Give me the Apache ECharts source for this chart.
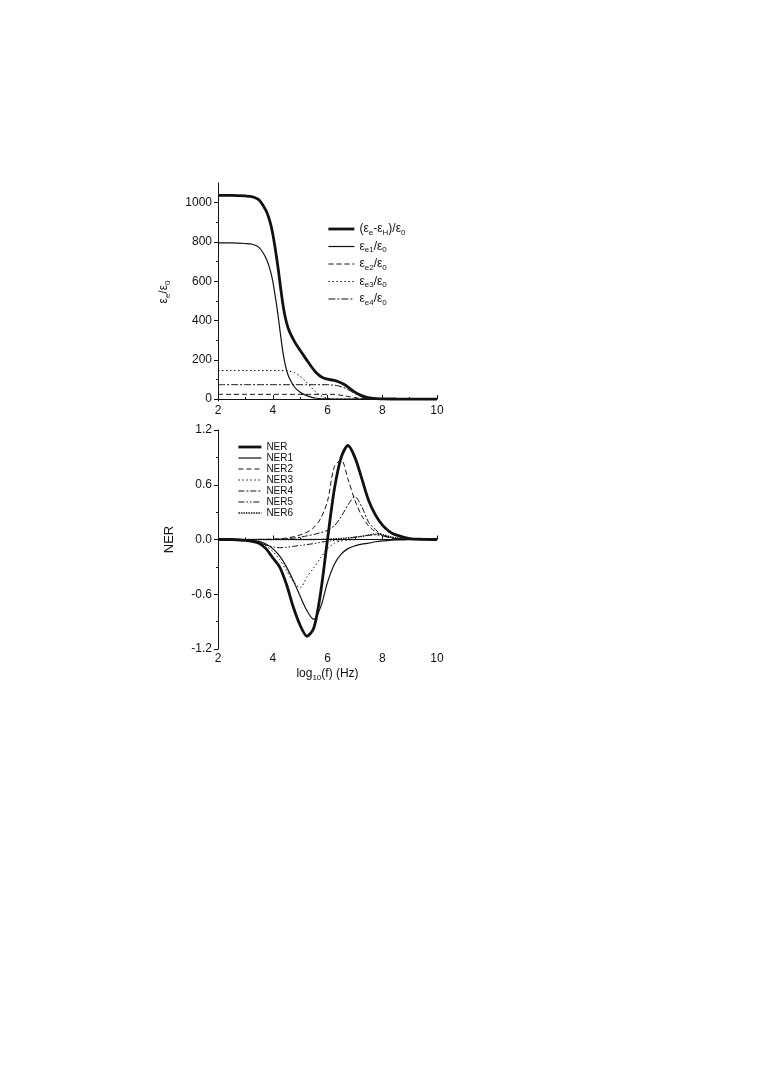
<!DOCTYPE html>
<html>
<head>
<meta charset="utf-8">
<script src="https://cdn.jsdelivr.net/npm/echarts@6/dist/echarts.min.js"></script>
<style>
html,body{margin:0;padding:0;background:#fff;}
#chart{width:766px;height:1084px;}
</style>
</head>
<body>
<div id="chart"></div>
<script>
// ---------- Top panel data: eps_e / eps_0 vs log10(f) ----------
const X_TOP = [2, 2.5, 3, 3.25, 3.5, 3.75, 3.9, 4, 4.1, 4.2, 4.3, 4.4, 4.5, 4.6, 4.8, 5, 5.2, 5.4, 5.6, 5.8, 6, 6.2, 6.4, 6.6, 6.8, 7, 7.2, 7.4, 7.6, 7.8, 8, 8.5, 9, 10];
const E_TOTAL = [1037, 1037, 1034, 1030, 1014, 960, 902, 842, 757, 662, 552, 457, 391, 347, 291, 248, 207, 167, 133, 111, 101, 96, 88, 75, 56, 35, 20, 10, 5, 2.4, 0.9, 0.1, 0, 0];
const E1 = [795, 795, 792, 788, 772, 718, 660, 600, 515, 420, 310, 215, 150, 108, 60, 35, 20, 10, 4, 1.5, 0.5, 0, 0, 0, 0, 0, 0, 0, 0, 0, 0, 0, 0, 0];
const E2 = [24, 24, 24, 24, 24, 24, 24, 24, 24, 24, 24, 24, 24, 24, 24, 24, 24, 24, 24, 24, 24, 24, 21, 17, 12, 7, 4, 2, 1, 0.4, 0.1, 0, 0, 0];
const E3 = [145, 145, 145, 145, 145, 145, 145, 145, 145, 145, 145, 145, 144, 142, 134, 116, 90, 60, 32, 13, 4, 1, 0.3, 0, 0, 0, 0, 0, 0, 0, 0, 0, 0, 0];
const E4 = [73, 73, 73, 73, 73, 73, 73, 73, 73, 73, 73, 73, 73, 73, 73, 73, 73, 73, 73, 73, 73, 71, 67, 58, 44, 28, 16, 8, 4, 2, 0.8, 0.1, 0, 0];

// ---------- Bottom panel data: NER vs log10(f) ----------
const X_BOT = [2, 2.5, 3, 3.25, 3.5, 3.75, 4, 4.25, 4.5, 4.75, 5, 5.25, 5.5, 5.75, 6, 6.25, 6.5, 6.75, 7, 7.25, 7.5, 7.75, 8, 8.25, 8.5, 9, 9.5, 10];
const NER  = [0, 0, -0.01, -0.02, -0.04, -0.1, -0.2, -0.3, -0.49, -0.74, -0.94, -1.06, -0.97, -0.58, 0.0, 0.55, 0.9, 1.03, 0.9, 0.67, 0.43, 0.27, 0.16, 0.09, 0.05, 0.01, 0.002, 0];
const NER1 = [0, 0, -0.004, -0.01, -0.02, -0.05, -0.1, -0.18, -0.3, -0.45, -0.62, -0.78, -0.875, -0.74, -0.47, -0.27, -0.16, -0.1, -0.07, -0.05, -0.04, -0.025, -0.015, -0.01, -0.005, -0.001, 0, 0];
const NER2 = [0, 0, 0, 0, 0.001, 0.002, 0.004, 0.008, 0.015, 0.03, 0.05, 0.08, 0.13, 0.23, 0.42, 0.8, 0.87, 0.66, 0.43, 0.26, 0.15, 0.085, 0.045, 0.022, 0.01, 0.002, 0, 0];
const NER3 = [0, 0, -0.005, -0.015, -0.03, -0.07, -0.13, -0.22, -0.34, -0.46, -0.53, -0.41, -0.31, -0.2, -0.1, -0.04, -0.015, -0.007, -0.003, 0, 0, 0, 0, 0, 0, 0, 0, 0];
const NER4 = [0, 0, 0, 0, 0, 0, 0, 0.003, 0.008, 0.015, 0.025, 0.04, 0.055, 0.075, 0.1, 0.15, 0.25, 0.38, 0.47, 0.36, 0.19, 0.11, 0.05, 0.025, 0.012, 0.002, 0, 0];
const NER5 = [0, -0.002, -0.01, -0.02, -0.035, -0.06, -0.08, -0.09, -0.085, -0.075, -0.065, -0.055, -0.045, -0.03, -0.02, -0.01, 0, 0.01, 0.025, 0.035, 0.045, 0.05, 0.04, 0.025, 0.012, 0.002, 0, 0];
const NER6 = [0, 0, 0, 0, 0, 0, 0, 0, 0, 0, 0, 0, 0, 0.002, 0.005, 0.008, 0.012, 0.018, 0.025, 0.035, 0.05, 0.06, 0.055, 0.035, 0.018, 0.004, 0, 0];

// ---------- Axis ticks ----------
const TOP_Y_TICKS = [0, 200, 400, 600, 800, 1000];
const TOP_Y_MINOR = [100, 300, 500, 700, 900];

// ---------- Legend labels ----------
const TOP_NAMES = ['total', 'e1', 'e2', 'e3', 'e4'];
const TOP_LABELS = {
  total: '{n|(ε}{s|e}{n|-ε}{s|H}{n|)/ε}{s|0}',
  e1: '{n|ε}{s|e1}{n|/ε}{s|0}',
  e2: '{n|ε}{s|e2}{n|/ε}{s|0}',
  e3: '{n|ε}{s|e3}{n|/ε}{s|0}',
  e4: '{n|ε}{s|e4}{n|/ε}{s|0}'
};
const BOT_NAMES = ['NER', 'NER1', 'NER2', 'NER3', 'NER4', 'NER5', 'NER6'];

const FONT = '"Liberation Sans", Arial, sans-serif';
const INK = '#111';

const rich = {
  n: { fontSize: 12, lineHeight: 16, fontFamily: FONT, color: INK, verticalAlign: 'middle' },
  s: { fontSize: 8, lineHeight: 8, fontFamily: FONT, color: INK, verticalAlign: 'bottom' }
};
const richLegend = {
  n: { fontSize: 12, lineHeight: 15, fontFamily: FONT, color: INK, verticalAlign: 'middle' },
  s: { fontSize: 8, lineHeight: 7, fontFamily: FONT, color: INK, verticalAlign: 'bottom' }
};

function pairs(xs, ys) { return xs.map((x, i) => [x, ys[i]]); }

function lineSeries(name, xi, yi, xs, ys, width, dash) {
  return {
    name: name, type: 'line', xAxisIndex: xi, yAxisIndex: yi,
    data: pairs(xs, ys), smooth: 0.3, symbol: 'none', showSymbol: false,
    lineStyle: { color: INK, width: width, type: dash || 'solid' },
    itemStyle: { color: INK },
    emphasis: { disabled: true }, silent: true
  };
}

function xAxisCfg(grid, withName) {
  const a = {
    type: 'value', gridIndex: grid, min: 2, max: 10, interval: 2, position: 'bottom',
    axisLine: { lineStyle: { color: INK, width: 1 } },
    axisTick: { inside: true, length: 4, lineStyle: { color: INK } },
    minorTick: { show: true, splitNumber: 2, length: 2, lineStyle: { color: INK } },
    axisLabel: { fontSize: 12, fontFamily: FONT, color: INK, margin: 4 },
    splitLine: { show: false }
  };
  if (withName) {
    a.name = '{n|log}{s|10}{n|(f) (Hz)}';
    a.nameLocation = 'middle';
    a.nameGap = 17;
    a.nameTextStyle = { rich: rich };
  }
  return a;
}

const legendSymbolOff = { color: 'transparent', borderColor: 'transparent', borderWidth: 0, opacity: 0 };

const option = {
  animation: false,
  backgroundColor: '#fff',
  grid: [
    { left: 218, width: 219, top: 183, height: 218 },
    { left: 218, width: 219, top: 430, height: 219 }
  ],
  xAxis: [xAxisCfg(0, false), xAxisCfg(1, true)],
  yAxis: [
    {
      type: 'value', gridIndex: 0, min: -10, max: 1100, position: 'left',
      axisLine: { show: true, lineStyle: { color: INK, width: 1 } },
      axisTick: { show: true, customValues: TOP_Y_TICKS, length: 4, lineStyle: { color: INK } },
      axisLabel: { customValues: TOP_Y_TICKS, fontSize: 12, fontFamily: FONT, color: INK, margin: 6,
        formatter: v => String(v) },
      splitLine: { show: false },
      name: '{n|ε}{s|e}{n|/ε}{s|0}', nameLocation: 'middle', nameRotate: 90, nameGap: 46,
      nameTextStyle: { rich: rich }
    },
    {
      type: 'value', gridIndex: 0, min: -10, max: 1100, position: 'left', offset: 0,
      axisLine: { show: false },
      axisTick: { show: true, customValues: TOP_Y_MINOR, length: 2, lineStyle: { color: INK } },
      axisLabel: { show: false },
      splitLine: { show: false }
    },
    {
      type: 'value', gridIndex: 1, min: -1.2, max: 1.2, interval: 0.6, position: 'left',
      axisLine: { show: true, lineStyle: { color: INK, width: 1 } },
      axisTick: { show: true, length: 4, lineStyle: { color: INK } },
      minorTick: { show: true, splitNumber: 2, length: 2, lineStyle: { color: INK } },
      axisLabel: { fontSize: 12, fontFamily: FONT, color: INK, margin: 6,
        formatter: v => v.toFixed(1) },
      splitLine: { show: false },
      name: 'NER', nameLocation: 'middle', nameRotate: 90, nameGap: 42,
      nameTextStyle: { fontSize: 13, fontFamily: FONT, color: INK }
    }
  ],
  legend: [
    {
      data: TOP_NAMES, orient: 'vertical', left: 327, top: 223, padding: 0,
      itemWidth: 26, itemHeight: 14, itemGap: 4, selectedMode: false,
      formatter: name => TOP_LABELS[name],
      textStyle: { rich: richLegend, fontFamily: FONT, color: INK },
      itemStyle: legendSymbolOff,
      lineStyle: { width: 'inherit', type: 'inherit', color: 'inherit' }
    },
    {
      data: BOT_NAMES, orient: 'vertical', left: 237, top: 442, padding: 0,
      itemWidth: 23, itemHeight: 10, itemGap: 1, selectedMode: false,
      textStyle: { fontSize: 10, lineHeight: 10, fontFamily: FONT, color: INK },
      itemStyle: legendSymbolOff,
      lineStyle: { width: 'inherit', type: 'inherit', color: 'inherit' }
    }
  ],
  series: [
    lineSeries('e2', 0, 0, X_TOP, E2, 1, [5, 3]),
    lineSeries('e3', 0, 0, X_TOP, E3, 1, [1.5, 2.5]),
    lineSeries('e4', 0, 0, X_TOP, E4, 1, [7, 2, 2, 2]),
    lineSeries('e1', 0, 0, X_TOP, E1, 1.2, 'solid'),
    lineSeries('total', 0, 0, X_TOP, E_TOTAL, 2.8, 'solid'),

    lineSeries('NER6', 1, 2, X_BOT, NER6, 1.3, [1.5, 1]),
    lineSeries('NER5', 1, 2, X_BOT, NER5, 1, [6, 2, 1.5, 2, 1.5, 2]),
    lineSeries('NER4', 1, 2, X_BOT, NER4, 1, [6, 2, 2, 2]),
    lineSeries('NER3', 1, 2, X_BOT, NER3, 1, [1.5, 2.5]),
    lineSeries('NER2', 1, 2, X_BOT, NER2, 1, [5, 3]),
    lineSeries('NER1', 1, 2, X_BOT, NER1, 1.2, 'solid'),
    lineSeries('NER', 1, 2, X_BOT, NER, 2.8, 'solid')
  ]
};

const chart = echarts.init(document.getElementById('chart'), null, { renderer: 'canvas' });
chart.setOption(option);
</script>
</body>
</html>
